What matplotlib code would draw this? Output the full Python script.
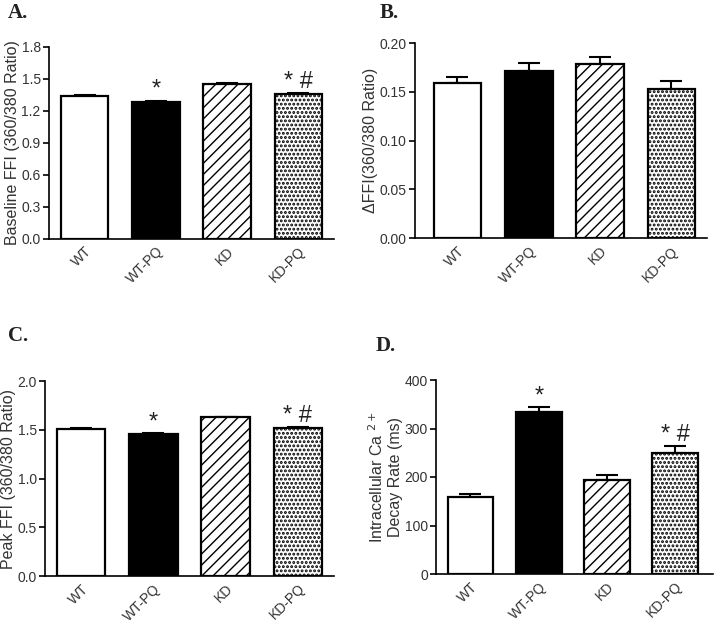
import matplotlib
matplotlib.use("Agg")
import matplotlib.pyplot as plt
import numpy as np

plt.rcParams['font.family'] = ['Liberation Sans', 'DejaVu Sans']

# Data
groups = ['WT', 'WT-PQ', 'KD', 'KD-PQ']

baseline = [1.343, 1.287, 1.450, 1.356]
baseline_err = [0.008, 0.006, 0.007, 0.008]

delta = [0.1596, 0.1713, 0.1788, 0.1531]
delta_err = [0.006, 0.008, 0.007, 0.008]

peak = [1.511, 1.456, 1.628, 1.518]
peak_err = [0.010, 0.008, 0.008, 0.008]

decay = [158, 334, 194, 249]
decay_err = [6, 10, 10, 14]

sig_marks = ['', '*', '', '* #']

faces = ['white', 'black', 'white', 'white']
hatches = [None, None, '///', '....']
hatch_lw = [1.0, 1.0, 1.0, 1.4]


def draw_panel(ax, vals, errs, ylim, yticks, ylabel, marks=None, xlim=(-0.5, 3.5),
               ytickfmt='{:.1f}', mark_pad=0.0):
    x = np.arange(len(groups))
    ax.errorbar(x, vals, yerr=[np.zeros(len(errs)), errs], fmt='none',
                ecolor='black', elinewidth=1.5, capsize=8, capthick=1.5, zorder=1)
    for i in range(len(groups)):
        # hatch linewidth is taken from rcParams when the patch is made
        with plt.rc_context({'hatch.linewidth': hatch_lw[i], 'hatch.color': '#111111'}):
            ax.bar(x[i], vals[i], width=0.67, color=faces[i], edgecolor='black',
                   linewidth=1.6, hatch=hatches[i], zorder=2)
    ax.set_xlim(*xlim)
    ax.set_ylim(*ylim)
    ax.set_yticks(yticks)
    ax.set_yticklabels([ytickfmt.format(t) for t in yticks], fontsize=10, color='#333333')
    ax.set_xticks(x)
    ax.set_xticklabels(groups, rotation=45, ha='right', rotation_mode='anchor',
                       fontsize=10, color='#333333')
    ax.tick_params(axis='x', length=0, pad=4)
    ax.tick_params(axis='y', length=4, width=1.2, direction='out', pad=2)
    ax.spines['top'].set_visible(False)
    ax.spines['right'].set_visible(False)
    ax.spines['left'].set_linewidth(1.2)
    ax.spines['bottom'].set_linewidth(1.2)
    ax.set_ylabel(ylabel, fontsize=11.5, color='#333333', labelpad=1)
    if marks:
        for xi, v, e, m in zip(x, vals, errs, marks):
            if m:
                ax.text(xi, v + e + mark_pad, m, ha='center', va='bottom',
                        fontsize=17, color='#222222')


fig = plt.figure(figsize=(7.2, 6.25), dpi=100)

axA = fig.add_axes([0.068, 0.618, 0.396, 0.307])
draw_panel(axA, baseline, baseline_err, (0, 1.8), [0.0, 0.3, 0.6, 0.9, 1.2, 1.5, 1.8],
           'Baseline FFI (360/380 Ratio)', sig_marks)

axB = fig.add_axes([0.576, 0.619, 0.406, 0.312])
draw_panel(axB, delta, delta_err, (0, 0.2), [0.0, 0.05, 0.10, 0.15, 0.20],
           '\u0394FFI(360/380 Ratio)', None, xlim=(-0.6, 3.5), ytickfmt='{:.2f}')

axC = fig.add_axes([0.0625, 0.0784, 0.4015, 0.3116])
draw_panel(axC, peak, peak_err, (0, 2.0), [0.0, 0.5, 1.0, 1.5, 2.0],
           'Peak FFI (360/380 Ratio)', sig_marks)

axD = fig.add_axes([0.606, 0.0816, 0.384, 0.3104])
draw_panel(axD, decay, decay_err, (0, 400), [0, 100, 200, 300, 400],
           'Intracellular Ca $^{2+}$\nDecay Rate (ms)', sig_marks, xlim=(-0.5, 3.55),
           ytickfmt='{:.0f}')

for lbl, (fx, fy) in zip(['A.', 'B.', 'C.', 'D.'],
                         [(0.011, 0.995), (0.527, 0.995), (0.011, 0.478), (0.522, 0.462)]):
    fig.text(fx, fy, lbl, fontsize=15, fontweight='bold', family='Liberation Serif',
             ha='left', va='top', color='#222222')

plt.savefig('out.png', dpi=100)
